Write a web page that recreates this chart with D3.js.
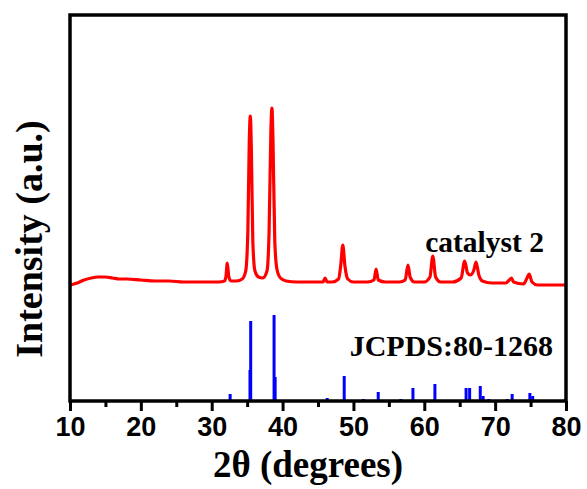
<!DOCTYPE html>
<html>
<head>
<meta charset="utf-8">
<script src="https://cdn.jsdelivr.net/npm/d3@7"></script>
<style>
  body { margin: 0; background: #fff; }
  svg { display: block; }
</style>
</head>
<body>
<div id="chart"></div>
<script>
// measured pattern of catalyst 2 (2theta, intensity in a.u.)
var sampleTheta = [10, 11, 12, 13, 14, 15, 16, 17, 18, 20, 22, 24, 26, 28, 30, 31, 31.8, 32.0, 32.2, 32.4, 32.7,
  33.5, 34.3, 34.8, 35.1, 35.3, 35.45, 35.6, 35.8, 36.1, 36.6, 37.2, 37.8, 38.1, 38.35, 38.5, 38.65, 38.9, 39.2, 39.7,
  40.5, 42, 44, 45.7, 46.0, 46.3, 47, 47.9, 48.2, 48.5, 48.8, 49.2, 50, 52, 52.9, 53.2, 53.5, 54.5, 56.5,
  57.3, 57.7, 58.0, 58.6, 60, 60.8, 61.2, 61.6, 62.3, 64, 65.2, 65.7, 66.1, 66.5, 67.0, 67.3, 67.7, 68.2,
  69.5, 71.5, 72.0, 72.3, 72.6, 74.0, 74.5, 74.8, 75.2, 76, 78, 80];
var sampleInt = [116, 118, 121, 123, 124, 124, 123, 122, 122, 121, 120, 120, 119, 119, 119, 119, 120, 124, 138, 125, 120,
  120, 122, 130, 170, 260, 285, 250, 160, 130, 124, 123, 130, 170, 270, 293, 260, 160, 132, 123,
  120, 119, 119, 119, 123, 119, 119, 122, 135, 156, 135, 122, 119, 119, 121, 132, 121, 119, 119,
  121, 136, 124, 119, 119, 124, 145, 124, 119, 119, 123, 140, 128, 126, 131, 139, 126, 120,
  118, 118, 121, 123, 119, 117, 123, 127, 119, 116, 116, 116];

// reference card JCPDS 80-1268 (2theta, relative intensity)
var refTheta = [32.6, 35.4, 35.5, 38.8, 38.95, 46.3, 48.7, 51.4, 53.5, 56.7, 58.4, 61.5, 65.9, 66.4, 67.9, 68.3, 69.1, 71.7, 72.4, 74.9, 75.3, 79.9];
var refInt = [7, 31, 80, 86, 24, 3, 25, 2, 9, 2, 13, 17, 13, 13, 15, 5, 2, 2, 7, 8, 5, 2];

var xTicks = [10, 20, 30, 40, 50, 60, 70, 80];
var xMinor = [15, 25, 35, 45, 55, 65, 75];

var width = 587, height = 489;
var margin = {top: 15, right: 21, bottom: 88, left: 70};

var x = d3.scaleLinear().domain([10, 80]).range([margin.left, width - margin.right]);
var y = d3.scaleLinear().domain([0, 386]).range([height - margin.bottom, margin.top]);

var svg = d3.select("#chart").append("svg")
  .attr("width", width)
  .attr("height", height);

// blue reference sticks
svg.append("g")
  .selectAll("line")
  .data(refTheta)
  .enter()
  .append("line")
  .attr("x1", function(d) { return x(d); })
  .attr("x2", function(d) { return x(d); })
  .attr("y1", y(0))
  .attr("y2", function(d, i) { return y(refInt[i]); })
  .attr("stroke", "#0000ff")
  .attr("stroke-width", 3);

// red pattern
var pts = sampleTheta.map(function(t, i) { return [t, sampleInt[i]]; });
var line = d3.line()
  .x(function(d) { return x(d[0]); })
  .y(function(d) { return y(d[1]); })
  .curve(d3.curveMonotoneX);

svg.append("path")
  .datum(pts)
  .attr("d", line)
  .attr("fill", "none")
  .attr("stroke", "#ff0000")
  .attr("stroke-width", 3.2)
  .attr("stroke-linejoin", "round");

// frame
svg.append("rect")
  .attr("x", x(10))
  .attr("y", y(386))
  .attr("width", x(80) - x(10))
  .attr("height", y(0) - y(386))
  .attr("fill", "none")
  .attr("stroke", "#000")
  .attr("stroke-width", 3.5);

// bottom axis, ticks outward
var xAxis = d3.axisBottom(x).tickValues(xTicks).tickSize(10).tickPadding(6).tickFormat(d3.format("d"));
var gx = svg.append("g")
  .attr("transform", "translate(0," + y(0) + ")")
  .call(xAxis);
gx.select(".domain").remove();
gx.selectAll(".tick line").attr("stroke", "#000").attr("stroke-width", 3);
gx.selectAll(".tick text")
  .attr("fill", "#000")
  .style("font-family", "'Liberation Sans', Arial, sans-serif")
  .style("font-weight", "bold")
  .style("font-size", "27px");

var gm = svg.append("g")
  .attr("transform", "translate(0," + y(0) + ")")
  .call(d3.axisBottom(x).tickValues(xMinor).tickSize(6).tickFormat(""));
gm.select(".domain").remove();
gm.selectAll(".tick line").attr("stroke", "#000").attr("stroke-width", 3);

// labels
var serif = "'Liberation Serif', 'Times New Roman', serif";

svg.append("text")
  .attr("x", 308)
  .attr("y", 477)
  .attr("text-anchor", "middle")
  .style("font-family", serif)
  .style("font-weight", "bold")
  .style("font-size", "37px")
  .text("2θ (degrees)");

svg.append("text")
  .attr("transform", "translate(42,239) rotate(-90)")
  .attr("text-anchor", "middle")
  .style("font-family", serif)
  .style("font-weight", "bold")
  .style("font-size", "38px")
  .text("Intensity (a.u.)");

svg.append("text")
  .attr("x", 544)
  .attr("y", 252)
  .attr("text-anchor", "end")
  .style("font-family", serif)
  .style("font-weight", "bold")
  .style("font-size", "29.5px")
  .text("catalyst 2");

svg.append("text")
  .attr("x", 553)
  .attr("y", 356)
  .attr("text-anchor", "end")
  .style("font-family", serif)
  .style("font-weight", "bold")
  .style("font-size", "30px")
  .text("JCPDS:80-1268");
</script>
</body>
</html>
